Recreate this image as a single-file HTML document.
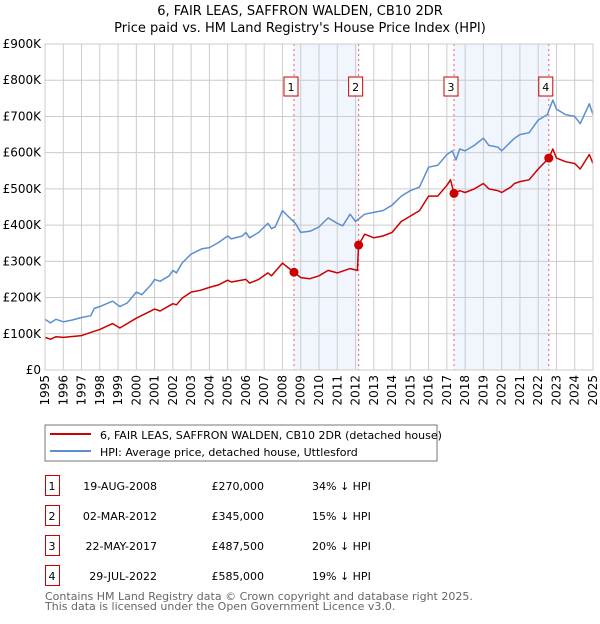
<!DOCTYPE html>
<html><head><meta charset="utf-8"><style>
body{margin:0;background:#fff;font-family:"DejaVu Sans","Liberation Sans",sans-serif;}
svg text{font-family:"DejaVu Sans","Liberation Sans",sans-serif;}
</style></head><body>
<svg id="c" width="600" height="620" xmlns="http://www.w3.org/2000/svg">
<text x="300" y="15" text-anchor="middle" font-size="13">6, FAIR LEAS, SAFFRON WALDEN, CB10 2DR</text>
<text x="300" y="32" text-anchor="middle" font-size="13">Price paid vs. HM Land Registry's House Price Index (HPI)</text>
<g id="plot"></g>
<rect x="45" y="425" width="392" height="36" fill="#fff" stroke="#777"/>
<line x1="50" y1="434" x2="91" y2="434" stroke="#cc0000" stroke-width="2"/>
<text x="100" y="439" font-size="11">6, FAIR LEAS, SAFFRON WALDEN, CB10 2DR (detached house)</text>
<line x1="50" y1="451" x2="91" y2="451" stroke="#5b8fd0" stroke-width="2"/>
<text x="100" y="456" font-size="11">HPI: Average price, detached house, Uttlesford</text>
<g id="tbl"></g>
<text x="45" y="600" font-size="11" fill="#666">Contains HM Land Registry data © Crown copyright and database right 2025.</text>
<text x="45" y="610" font-size="11" fill="#666">This data is licensed under the Open Government Licence v3.0.</text>
</svg>
<script>
const hpiYears=[1995,1995.3,1995.6,1996,1996.5,1997,1997.5,1997.7,1998,1998.7,1999.1,1999.5,2000,2000.3,2000.8,2001,2001.3,2001.8,2002,2002.2,2002.5,2003,2003.2,2003.6,2004,2004.5,2005,2005.2,2005.8,2006,2006.2,2006.7,2007.2,2007.4,2007.6,2008,2008.3,2008.7,2009,2009.5,2010,2010.5,2011,2011.3,2011.7,2012,2012.5,2013,2013.5,2014,2014.5,2015,2015.5,2016,2016.5,2017,2017.3,2017.5,2017.7,2018,2018.5,2019,2019.3,2019.8,2020,2020.5,2020.7,2021,2021.5,2022,2022.5,2022.8,2023,2023.5,2024,2024.3,2024.8,2025];
const hpiValues=[140,130,140,133,138,145,150,170,175,190,175,185,215,208,235,250,245,260,275,268,295,320,325,335,338,352,370,362,370,380,365,380,405,390,395,440,425,405,380,383,395,420,405,398,430,410,430,435,440,455,480,495,505,560,565,595,605,580,610,605,620,640,620,615,605,630,640,650,655,690,705,745,720,705,700,680,735,705];
const priceYears=[1995,1995.3,1995.6,1996,1997,1998,1998.7,1999.1,2000,2001,2001.3,2002,2002.2,2002.5,2003,2003.5,2004,2004.5,2005,2005.2,2006,2006.2,2006.7,2007.2,2007.4,2008,2008.3,2008.63,2009,2009.5,2010,2010.5,2011,2011.7,2012.1,2012.17,2012.5,2013,2013.5,2014,2014.5,2015,2015.5,2016,2016.5,2017,2017.2,2017.39,2017.7,2018,2018.5,2019,2019.3,2019.8,2020,2020.5,2020.7,2021,2021.5,2022,2022.58,2022.8,2023,2023.5,2024,2024.3,2024.8,2025];
const priceValues=[90,85,92,90,95,112,128,116,143,168,163,183,180,198,215,220,228,235,248,243,250,240,250,268,260,295,283,270,255,252,260,275,268,280,275,345,375,365,370,380,410,425,440,480,480,510,525,487.5,495,490,500,515,500,495,490,505,515,520,525,555,585,610,585,575,570,555,595,570];
const saleLabels=["1","2","3","4"];
const saleYears=[2008.63,2012.17,2017.39,2022.58];
const salePrices=[270,345,487.5,585];
const saleDates=["19-AUG-2008","02-MAR-2012","22-MAY-2017","29-JUL-2022"];
const salePriceText=["£270,000","£345,000","£487,500","£585,000"];
const saleHpiText=["34% ↓ HPI","15% ↓ HPI","20% ↓ HPI","19% ↓ HPI"];
const yTicks=[0,100,200,300,400,500,600,700,800,900];
const yTickLabels=["£0","£100K","£200K","£300K","£400K","£500K","£600K","£700K","£800K","£900K"];
const xTicks=[1995,1996,1997,1998,1999,2000,2001,2002,2003,2004,2005,2006,2007,2008,2009,2010,2011,2012,2013,2014,2015,2016,2017,2018,2019,2020,2021,2022,2023,2024,2025];

const L=45,R=593,T=44,B=370;
const X=y=>L+(y-1995)/30*(R-L);
const Y=v=>B-v/900*(B-T);
const NS="http://www.w3.org/2000/svg";
const plot=document.getElementById('plot');
function mk(tag,at,parent){const e=document.createElementNS(NS,tag);for(const k in at)e.setAttribute(k,at[k]);(parent||plot).appendChild(e);return e;}
// shading
for(let i=0;i<saleYears.length;i+=2){
 const r=mk('rect',{x:X(saleYears[i]),y:T,width:X(saleYears[i+1])-X(saleYears[i]),height:B-T,fill:'#eef3fc',opacity:0.8});
 
 
}
yTicks.forEach((v,i)=>{
 const g=mk('line',{x1:L,x2:R,y1:Y(v),y2:Y(v),stroke:'#ccc','stroke-width':1});
 
 
 const t=mk('text',{x:L-4,y:Y(v)+4,'text-anchor':'end','font-size':12});
 t.textContent=yTickLabels[i];
 
 
});
xTicks.forEach(v=>{
 const g=mk('line',{x1:X(v),x2:X(v),y1:T,y2:B,stroke:'#ccc','stroke-width':1});
 
 
 const t=mk('text',{x:0,y:0,'font-size':12,'text-anchor':'end',transform:`translate(${X(v)+4},${B+5}) rotate(-90)`});
 t.textContent=v;
 
 
});
saleYears.forEach((s,i)=>{
 const l=mk('line',{x1:X(s),x2:X(s),y1:T,y2:B,stroke:'#f06060','stroke-width':1,'stroke-dasharray':'2,3'});
 
 
});
function path(xs,vs,color,name){
 const d=xs.map((x,i)=>(i?'L':'M')+X(x).toFixed(1)+','+Y(vs[i]).toFixed(1)).join('');
 const p=mk('path',{d:d,fill:'none',stroke:color,'stroke-width':1.5,'stroke-linejoin':'round'});
 
 
}
path(hpiYears,hpiValues,'#5b8fd0','hpi-line');
path(priceYears,priceValues,'#cc0000','price-line');
saleYears.forEach((s,i)=>{
 const c=mk('circle',{cx:X(s),cy:Y(salePrices[i]),r:4.5,fill:'#cc0000'});
 
 
 const b=mk('rect',{x:X(s)-10,y:77,width:14,height:19,fill:'#fff',stroke:'#cc0000'});
 
 
 const t=mk('text',{x:X(s)-3,y:91,'text-anchor':'middle','font-size':11});
 t.textContent=saleLabels[i];
 
 
});
mk('rect',{x:L,y:T,width:R-L,height:B-T,fill:'none',stroke:'#ccc'});
const tbl=document.getElementById('tbl');
saleLabels.forEach((s,i)=>{
 const y0=475+i*30;
 const b=mk('rect',{x:45.5,y:y0+0.5,width:14,height:20,fill:'#fff',stroke:'#cc0000'},tbl);
 
 
 const cells=[[52,'middle',s],[157,'end',saleDates[i]],[264,'end',salePriceText[i]],[312,'start',saleHpiText[i]]];
 cells.forEach(c=>{
  const t=mk('text',{x:c[0],y:y0+15,'text-anchor':c[1],'font-size':11},tbl);
  t.textContent=c[2];
  
  
 });
});
</script>
</body></html>
